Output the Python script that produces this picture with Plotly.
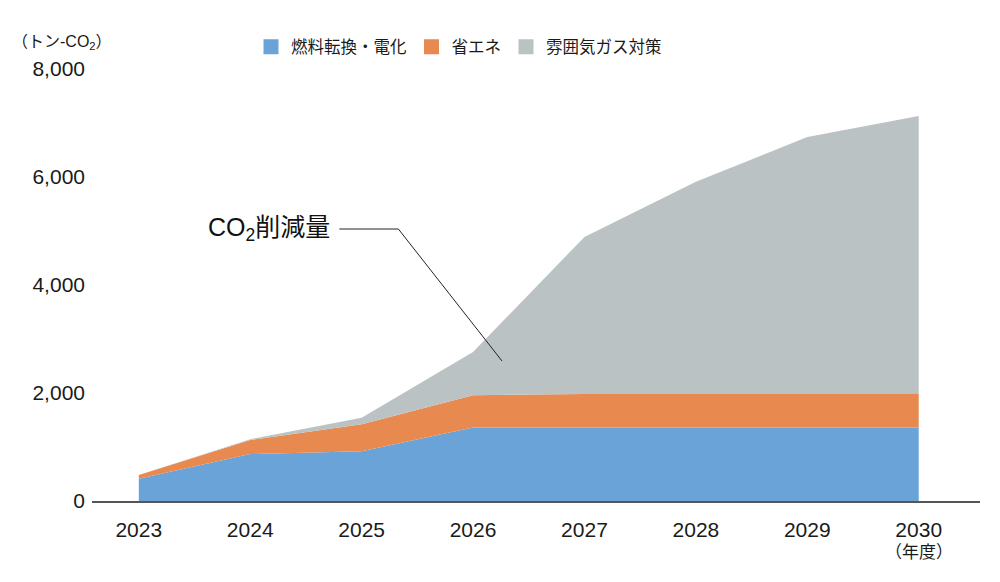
import plotly.graph_objects as go

# 年度
years = [2023, 2024, 2025, 2026, 2027, 2028, 2029, 2030]

# CO2削減量 (トン-CO2)
fuel_electrification = [410, 870, 920, 1360, 1360, 1360, 1360, 1360]
energy_saving = [70, 260, 500, 600, 620, 620, 620, 620]
atmosphere_gas = [0, 15, 120, 800, 2910, 3930, 4760, 5150]

series_names = ["燃料転換・電化", "省エネ", "雰囲気ガス対策"]
series_colors = ["#6aa3d7", "#e88950", "#bbc2c3"]

y_ticks = [0, 2000, 4000, 6000, 8000]

font_family = "Liberation Sans, Noto Sans CJK JP, sans-serif"

# page body adds 8px offset, so margins are shifted by that
offset = 8

fig = go.Figure()

for name, values, color in zip(
    series_names, [fuel_electrification, energy_saving, atmosphere_gas], series_colors
):
    fig.add_trace(
        go.Scatter(
            x=years,
            y=values,
            name=name,
            mode="lines",
            line=dict(width=0, color=color),
            fillcolor=color,
            stackgroup="one",
            showlegend=False,
            hoverinfo="x+y+name",
        )
    )

# square legend markers
for name, color in zip(series_names, series_colors):
    fig.add_trace(
        go.Scatter(
            x=[None],
            y=[None],
            name=name,
            mode="markers",
            marker=dict(symbol="square", size=15, color=color),
            showlegend=True,
        )
    )

fig.update_xaxes(
    range=[2022.58, 2030.55],
    tickvals=years,
    ticktext=[str(y) for y in years],
    showline=True,
    linecolor="#555555",
    linewidth=2,
    showgrid=False,
    zeroline=False,
    ticks="",
    ticklabelstandoff=9,
    tickfont=dict(size=21, color="#1a1a1a"),
)
fig.update_yaxes(
    range=[0, 8000],
    tickvals=y_ticks,
    tickformat=",",
    showline=False,
    showgrid=False,
    zeroline=False,
    ticks="",
    ticklabelstandoff=6,
    tickfont=dict(size=21, color="#1a1a1a"),
)

# callout line for the label
fig.add_shape(
    type="path",
    path="M 2024.80,5037 L 2025.33,5037 L 2026.26,2593",
    xref="x",
    yref="y",
    line=dict(color="#222222", width=1),
)

fig.add_annotation(
    x=2024.73,
    y=5037,
    xref="x",
    yref="y",
    text="CO<sub>2</sub>削減量",
    showarrow=False,
    xanchor="right",
    yanchor="middle",
    font=dict(size=25, color="#111111", family=font_family),
)
fig.add_annotation(
    x=(62 - 92) / 888,
    y=1 + (69 - 42) / 432,
    xref="paper",
    yref="paper",
    text="（トン-CO<sub>2</sub>）",
    showarrow=False,
    xanchor="center",
    yanchor="middle",
    font=dict(size=16, color="#1a1a1a", family=font_family),
)
fig.add_annotation(
    x=2030,
    y=0,
    xref="x",
    yref="y",
    yshift=-51,
    text="（年度）",
    showarrow=False,
    font=dict(size=17, color="#1a1a1a", family=font_family),
)

fig.update_layout(
    width=1000,
    height=582,
    margin=dict(l=92 - offset, r=20 + offset, t=69 - offset, b=81 + offset, autoexpand=False),
    paper_bgcolor="white",
    plot_bgcolor="white",
    font=dict(family=font_family, color="#1a1a1a"),
    showlegend=True,
    legend=dict(
        orientation="h",
        xref="container",
        yref="container",
        x=243 / 1000,
        y=1 - (47 - offset) / 582,
        xanchor="left",
        yanchor="middle",
        font=dict(size=16.5),
        traceorder="normal",
        itemwidth=30,
    ),
)

fig.write_html("out.html")
